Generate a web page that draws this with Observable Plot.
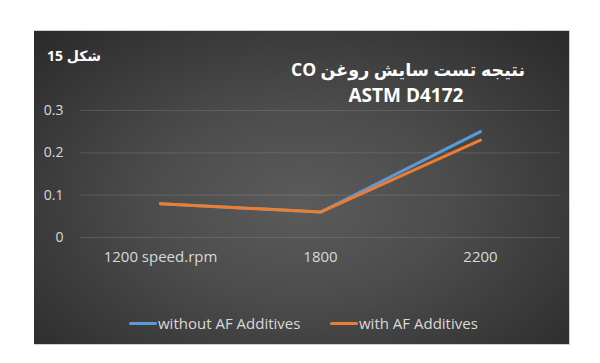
<!DOCTYPE html>
<html><head><meta charset="utf-8">
<script src="https://cdn.jsdelivr.net/npm/d3@7"></script>
<script src="https://cdn.jsdelivr.net/npm/@observablehq/plot@0.6"></script>
<style>
body{margin:0;background:#fff;font-family:"Open Sans","DejaVu Sans",sans-serif;}
#wrap{position:relative;width:600px;height:363px;overflow:hidden;}
#box{position:absolute;left:34px;top:30px;width:535px;height:313px;border:1px solid #d0d0d0;border-left:none;
 background:radial-gradient(ellipse at 50% 55%, #5b5b5b 0%, #4c4c4c 40%, #323232 85%, #2a2a2a 100%);}
#plot{position:absolute;left:0;top:0;}
.t{position:absolute;color:#fff;font-weight:bold;white-space:nowrap;}
.leg{position:absolute;top:313px;font-size:15px;color:#d9d9d9;white-space:nowrap;}
.sw{display:inline-block;width:28px;height:3px;border-radius:2px;vertical-align:middle;margin-right:1px;position:relative;top:-1px;}
</style></head>
<body><div id="wrap"><div id="box"></div><div id="plot"></div>
<div class="t" style="left:47px;top:46px;font-size:14px;" dir="rtl">شکل 15</div>
<div class="t" style="left:282px;top:57px;width:252px;text-align:center;font-size:17.5px;" dir="rtl">نتیجه تست سایش روغن CO</div>
<div class="t" style="left:280px;top:82px;width:252px;text-align:center;font-size:19px;">ASTM D4172</div>
<div class="leg" style="left:129px;"><span class="sw" style="background:#5b9bd5"></span>without AF Additives</div>
<div class="leg" style="left:330px;"><span class="sw" style="background:#ed7d31"></span>with AF Additives</div>
</div>
<script>
const speeds = ["1200 speed.rpm", "1800", "2200"];
const withoutAF = [0.08, 0.06, 0.25];
const withAF = [0.08, 0.06, 0.23];
const yTicks = [0, 0.1, 0.2, 0.3];
const seriesNames = ["without AF Additives", "with AF Additives"];
const colors = ["#5b9bd5", "#ed7d31"];

const data = [];
speeds.forEach((s, i) => data.push({speed: s, value: withoutAF[i], series: seriesNames[0]}));
speeds.forEach((s, i) => data.push({speed: s, value: withAF[i], series: seriesNames[1]}));

const chart = Plot.plot({
  width: 600, height: 363,
  marginLeft: 80, marginRight: 40, marginTop: 110, marginBottom: 126,
  style: {background: "transparent", fontFamily: "'Open Sans','DejaVu Sans',sans-serif"},
  x: {type: "point", domain: speeds, padding: 0.5},
  y: {domain: [0, 0.3]},
  color: {domain: seriesNames, range: colors},
  marks: [
    Plot.ruleY(yTicks, {stroke: "#ffffff", strokeOpacity: 0.12, strokeWidth: 1}),
    Plot.axisY(yTicks, {tickSize: 0, tickPadding: 17, fontSize: 14, fill: "#d9d9d9", label: null, tickFormat: d => d === 0 ? "0" : String(d)}),
    Plot.axisX({tickSize: 0, tickPadding: 14, fontSize: 15, fill: "#d9d9d9", label: null}),
    Plot.line(data, {x: "speed", y: "value", z: "series", stroke: "series", strokeWidth: 3, strokeLinecap: "round", strokeLinejoin: "round"})
  ]
});
document.getElementById("plot").appendChild(chart);
</script>
</body></html>
